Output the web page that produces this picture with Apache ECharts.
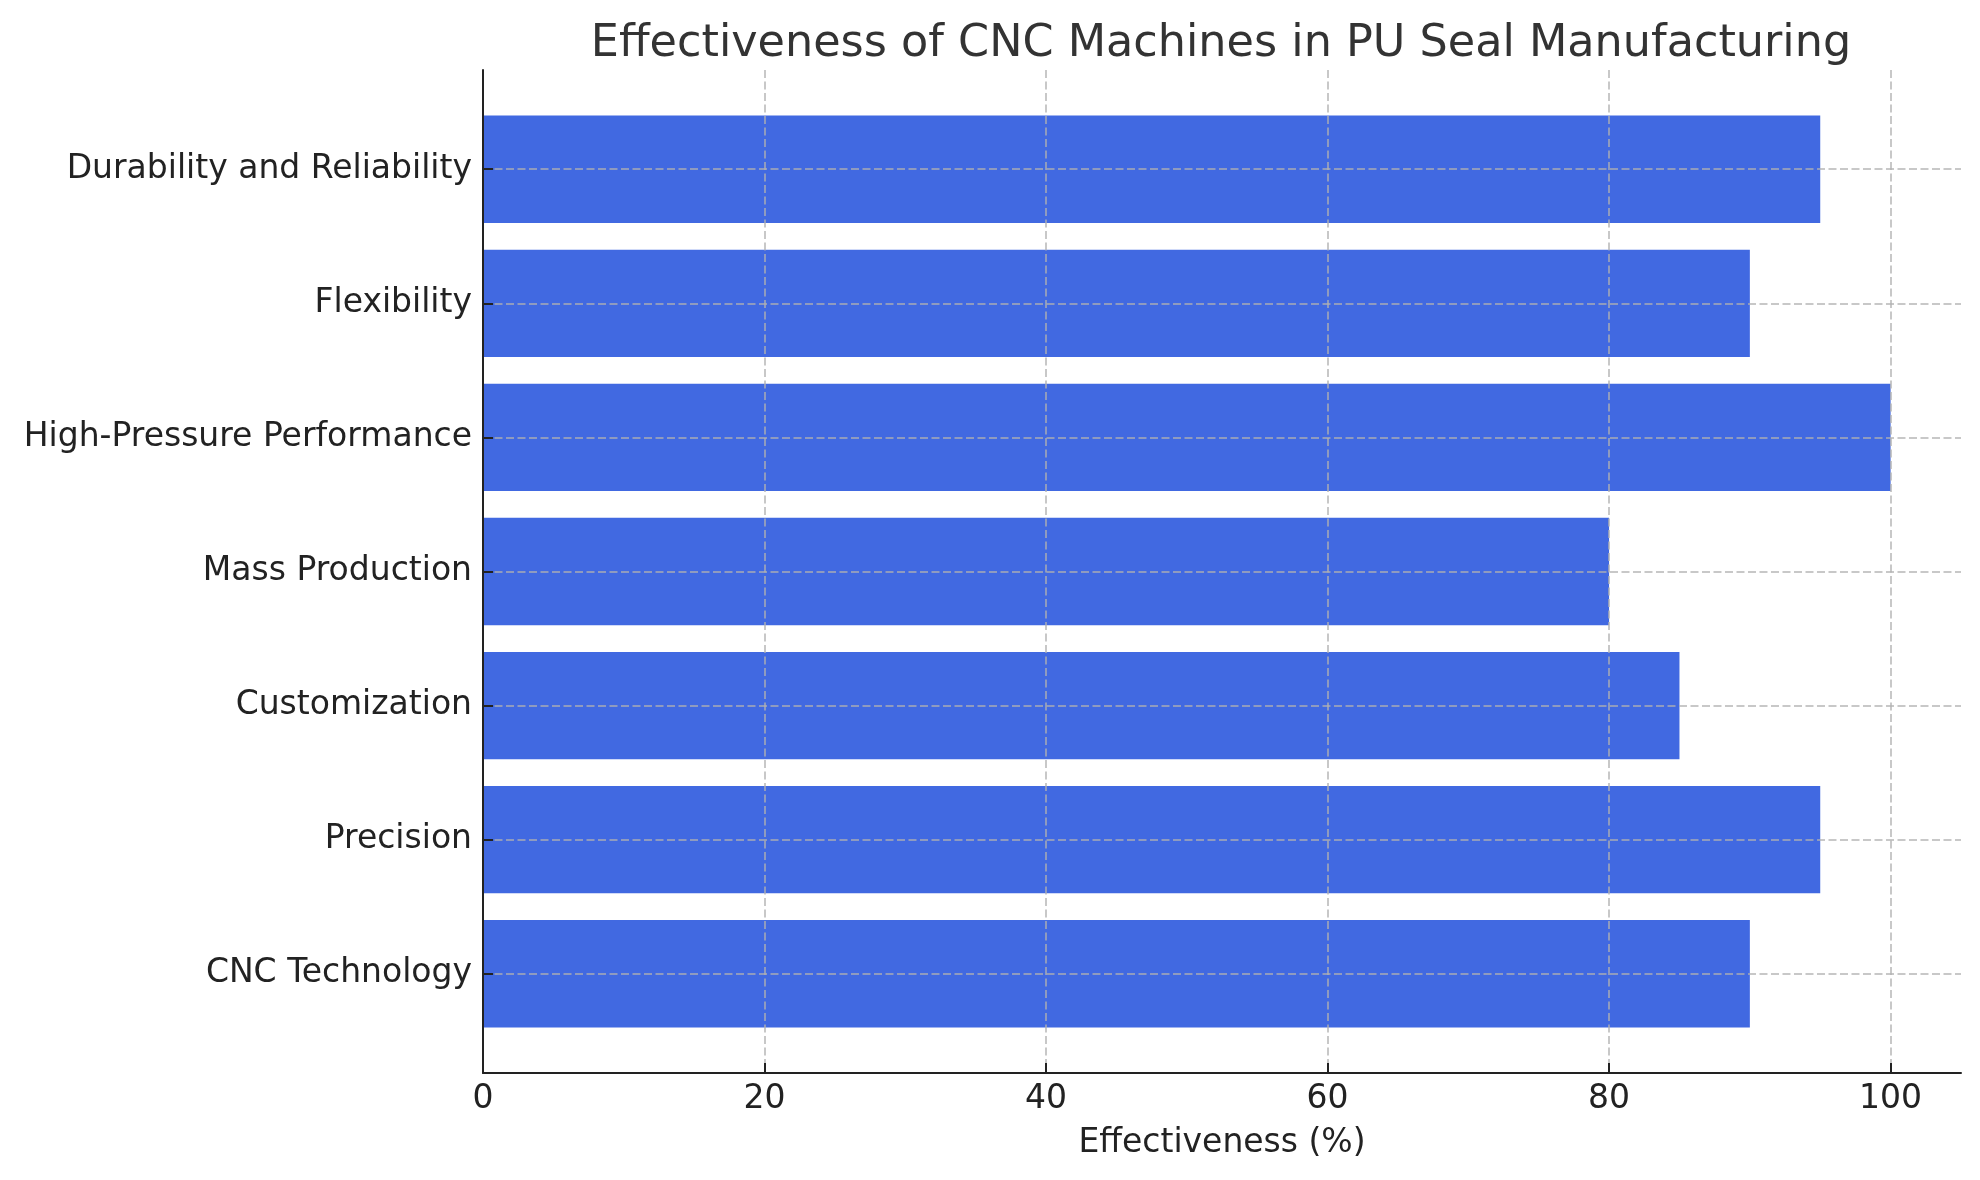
<!DOCTYPE html>
<html>
<head>
<meta charset="utf-8">
<script src="https://cdn.jsdelivr.net/npm/echarts@6/dist/echarts.min.js"></script>
<style>
    html, body { margin: 0; padding: 0; background: #fff; }
    #chart { width: 1980px; height: 1180px; }
</style>
</head>
<body>
<div id="chart"></div>
<script>
// 数据
let categories = ['CNC Technology', 'Precision', 'Customization', 'Mass Production', 'High-Pressure Performance', 'Flexibility', 'Durability and Reliability']
let effectiveness = [90, 95, 85, 80, 100, 90, 95]
let x_ticks = [0, 20, 40, 60, 80, 100]

let font = 'DejaVu Sans'
let grid_line = { color: 'rgba(176,176,176,0.7)', width: 2, type: [8, 3.5] }

var mychart = echarts.init(document.getElementById('chart'))
mychart.setOption({
    animation: false,
    title: {
        text: 'Effectiveness of CNC Machines in PU Seal Manufacturing',
        left: 1216,
        top: 17,
        textAlign: 'center',
        textStyle: { fontFamily: font, fontSize: 44.5, fontWeight: 'normal', color: '#333' }
    },
    grid: [
        // 外框
        { left: 483, right: 19, top: 70, bottom: 107 },
        // 柱子
        { left: 483, right: 19, top: 102.2, bottom: 139.2 },
        // x 刻度
        { left: 483, right: 89.4, top: 70, bottom: 107 }
    ],
    xAxis: [
        {
            gridIndex: 0, type: 'value', min: 0, max: 105, z: 8,
            axisLine: { show: true, lineStyle: { color: '#222', width: 2 } },
            axisTick: { show: false }, axisLabel: { show: false }, splitLine: { show: false },
            name: 'Effectiveness (%)', nameLocation: 'middle', nameGap: 54,
            nameTextStyle: { fontFamily: font, fontSize: 33, color: '#222' }
        },
        {
            gridIndex: 1, type: 'value', min: 0, max: 105, show: false
        },
        {
            gridIndex: 2, type: 'value', min: x_ticks[0], max: x_ticks[x_ticks.length - 1], interval: 20, z: 5,
            axisLine: { show: false },
            axisTick: { show: true, inside: true, length: 10, lineStyle: { color: '#222', width: 2 } },
            axisLabel: { fontFamily: font, fontSize: 33, color: '#222', margin: 10 },
            splitLine: { show: true, lineStyle: grid_line }
        }
    ],
    yAxis: [
        {
            gridIndex: 0, type: 'value', min: 0, max: 1, z: 8,
            axisLine: { show: true, lineStyle: { color: '#222', width: 2 } },
            axisTick: { show: false }, axisLabel: { show: false }, splitLine: { show: false }
        },
        {
            gridIndex: 1, type: 'category', data: categories, z: 5,
            axisLine: { show: false },
            axisTick: { show: true, inside: true, length: 10, alignWithLabel: true, lineStyle: { color: '#222', width: 2 } },
            axisLabel: { fontFamily: font, fontSize: 33, color: '#222', margin: 11, padding: [7, 0, 0, 0] },
            splitLine: { show: true, interval: 0, alignWithLabel: true, lineStyle: grid_line }
        },
        {
            gridIndex: 2, type: 'value', min: 0, max: 1, show: false
        }
    ],
    series: [
        {
            type: 'bar',
            xAxisIndex: 1,
            yAxisIndex: 1,
            data: effectiveness,
            barCategoryGap: '20%',
            itemStyle: { color: '#4169E1' }
        }
    ]
})
</script>
</body>
</html>
